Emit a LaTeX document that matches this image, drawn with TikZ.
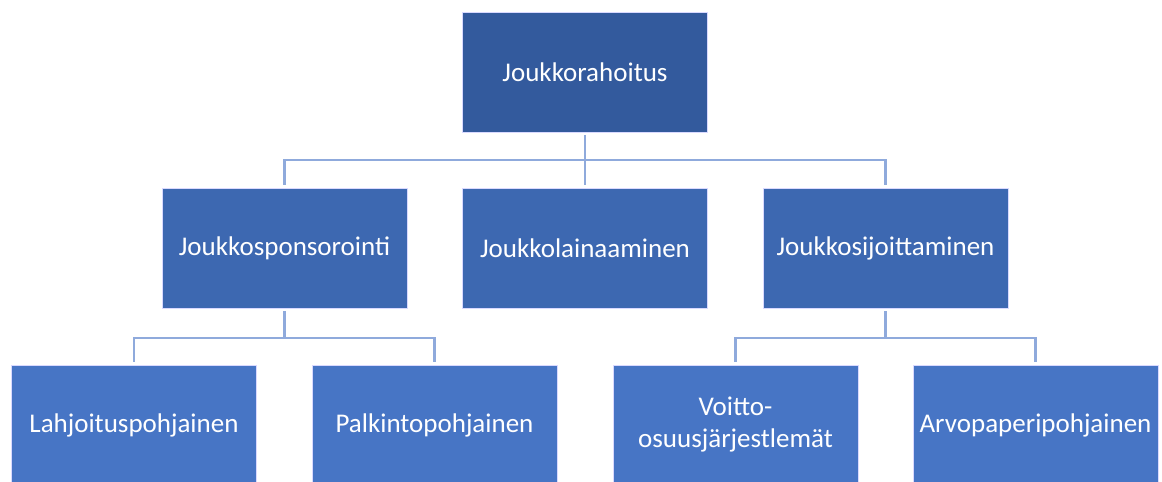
\documentclass[tikz,border=0pt]{standalone}
\usepackage{fontspec}
\setmainfont{Carlito}
\definecolor{topc}{HTML}{335A9D}
\definecolor{midc}{HTML}{3D68B1}
\definecolor{lowc}{HTML}{4775C5}
\definecolor{linec}{HTML}{8FAADC}
\begin{document}
\begin{tikzpicture}[x=1bp,y=-1bp,
  box/.style={draw=white!85!blue, line width=0.6bp, minimum width=245bp, minimum height=120bp, inner sep=0pt,
    text=white, align=center, font=\fontsize{27bp}{32bp}\selectfont},
  conn/.style={draw=linec, line width=2.6bp}]
\useasboundingbox (0,0) rectangle (1162,482);
\clip (0,0) rectangle (1162,482);
\node[box, fill=topc] (root) at (585,72) {Joukkorahoitus};
\node[box, fill=midc] (a) at (284.5,248) {Joukkosponsorointi};
\node[box, fill=midc] (b) at (585,248) {Joukkolainaaminen};
\node[box, fill=midc] (c) at (885.5,248) {Joukkosijoittaminen};
\node[box, fill=lowc] (a1) at (134,425) {Lahjoituspohjainen};
\node[box, fill=lowc] (a2) at (434.5,425) {Palkintopohjainen};
\node[box, fill=lowc] (c1) at (735.5,425) {Voitto-\\osuusjärjestlemät};
\node[box, fill=lowc] (c2) at (1035.5,425) {Arvopaperipohjainen};
\draw[conn] ([yshift=-3bp]root.south) -- ([yshift=3bp]b.north);
\draw[conn] ([yshift=3bp]a.north) |- (585,160) -| ([yshift=3bp]c.north);
\draw[conn] ([yshift=-3bp]a.south) -- (284.5,338);
\draw[conn] ([yshift=3bp]a1.north) |- (284.5,338) -| ([yshift=3bp]a2.north);
\draw[conn] ([yshift=-3bp]c.south) -- (885.5,338);
\draw[conn] ([yshift=3bp]c1.north) |- (885.5,338) -| ([yshift=3bp]c2.north);
\end{tikzpicture}
\end{document}
